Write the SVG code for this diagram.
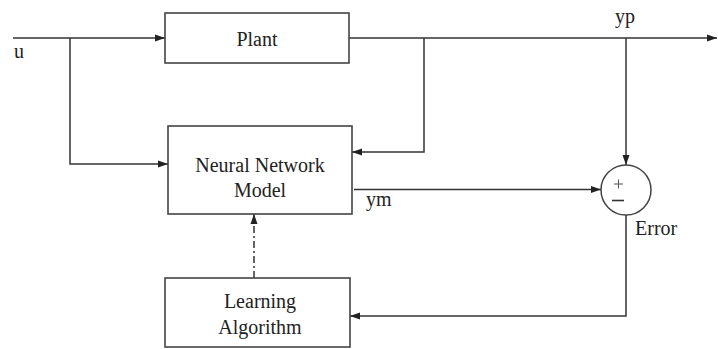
<svg xmlns="http://www.w3.org/2000/svg" width="718" height="349" viewBox="0 0 718 349">
<defs>
<style>
.box{fill:#fff;stroke:#444;stroke-width:1.6}
.ln{fill:none;stroke:#333;stroke-width:1.5}
.t{font-family:"Liberation Serif",serif;font-size:20px;fill:#222}
.c{text-anchor:middle}
</style>
<marker id="ah" markerWidth="10" markerHeight="8" refX="10" refY="4" orient="auto" markerUnits="userSpaceOnUse">
<path d="M0,0.5 L10,4 L0,7.5 Z" fill="#222"/>
</marker>
</defs>
<rect width="718" height="349" fill="#fff"/>
<g id="connectors">
<line class="ln" x1="13" y1="38" x2="165" y2="38" marker-end="url(#ah)"/>
<polyline class="ln" points="70,38 70,164 168,164" marker-end="url(#ah)"/>
<line class="ln" x1="349" y1="38" x2="717" y2="38" marker-end="url(#ah)"/>
<polyline class="ln" points="424,38 424,152 352,152" marker-end="url(#ah)"/>
<line class="ln" x1="626" y1="38" x2="626" y2="165" marker-end="url(#ah)"/>
<line class="ln" x1="354" y1="189.5" x2="601" y2="189.5" marker-end="url(#ah)"/>
<polyline class="ln" points="626,215 626,316 350,316" marker-end="url(#ah)"/>
<line class="ln" x1="254" y1="278" x2="254" y2="214" stroke-dasharray="7,3,2,3" marker-end="url(#ah)"/>
</g>
<g id="plant">
<rect class="box" x="165" y="13" width="184" height="50"/>
<text class="t c" x="257" y="46">Plant</text>
</g>
<g id="nn">
<rect class="box" x="168" y="126" width="184" height="88"/>
<text class="t c" x="260" y="172">Neural Network</text>
<text class="t c" x="260" y="197">Model</text>
</g>
<g id="learning">
<rect class="box" x="165" y="278" width="185" height="69"/>
<text class="t c" x="260" y="308">Learning</text>
<text class="t c" x="260" y="334">Algorithm</text>
</g>
<g id="sum">
<circle cx="626" cy="190" r="25" fill="#fff" stroke="#444" stroke-width="1.5"/>
<line x1="614" y1="184" x2="623" y2="184" stroke="#555" stroke-width="1"/>
<line x1="618.5" y1="179.5" x2="618.5" y2="188.5" stroke="#555" stroke-width="1"/>
<line x1="612" y1="200.5" x2="624" y2="200.5" stroke="#333" stroke-width="1.6"/>
</g>
<g id="labels">
<text class="t" x="14" y="58">u</text>
<text class="t" x="615" y="23">yp</text>
<text class="t" x="366" y="206">ym</text>
<text class="t" x="635" y="235">Error</text>
</g>
</svg>
